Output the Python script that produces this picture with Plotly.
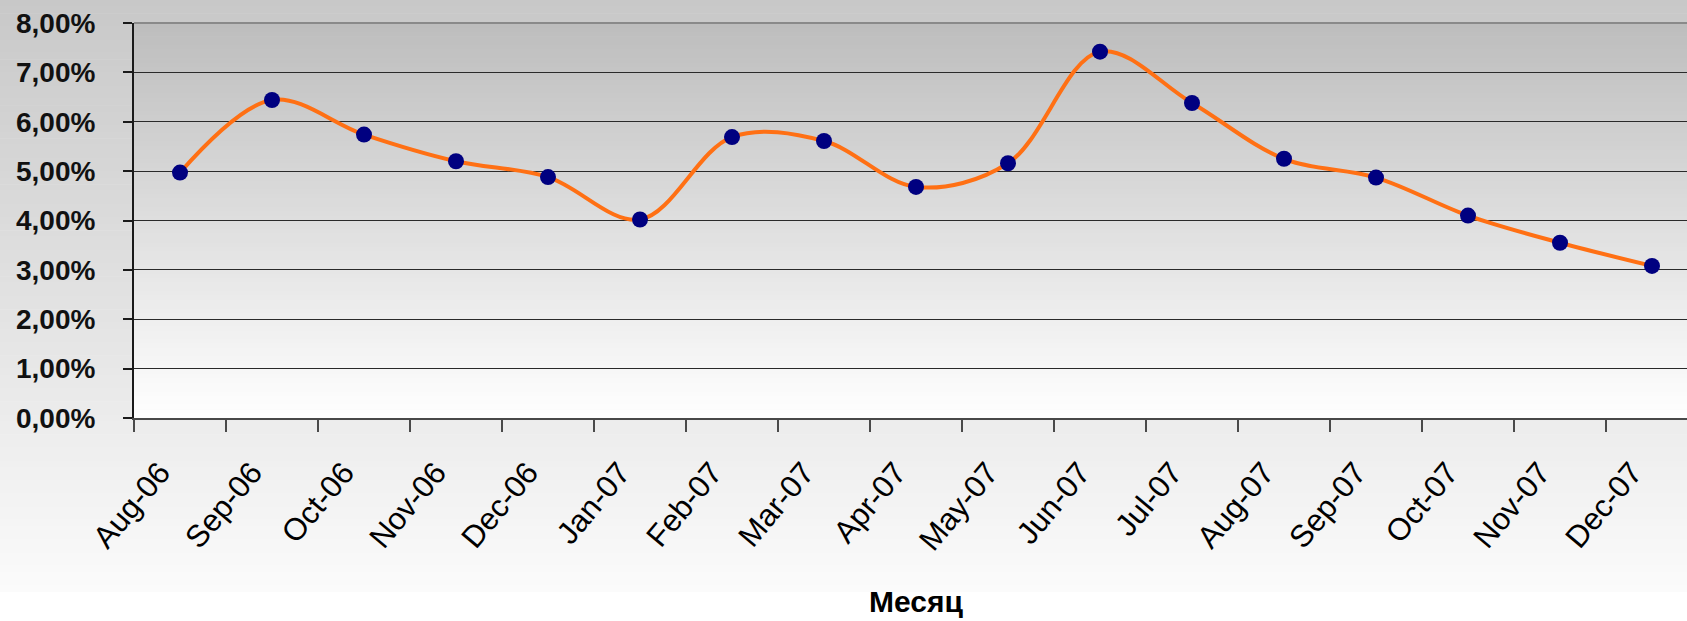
import plotly.graph_objects as go

# ---- data ----
months = ["Aug-06", "Sep-06", "Oct-06", "Nov-06", "Dec-06", "Jan-07", "Feb-07",
          "Mar-07", "Apr-07", "May-07", "Jun-07", "Jul-07", "Aug-07", "Sep-07",
          "Oct-07", "Nov-07", "Dec-07"]
rates_pct = [4.97, 6.44, 5.74, 5.20, 4.88, 4.02, 5.69, 5.61, 4.68, 5.16,
             7.42, 6.38, 5.25, 4.87, 4.10, 3.55, 3.08]
y_ticks = [0, 0.01, 0.02, 0.03, 0.04, 0.05, 0.06, 0.07, 0.08]
x_title = "Месяц"

# ---- geometry ----
W, H = 1687, 621
L, T, B, R = 134, 23, 203, 0
PH = H - T - B          # plot height in px
PW = W - L - R          # plot width in px

def py(ypx):            # pixel y (from top) -> paper y
    return (T + PH - ypx) / PH

def px(xpx):            # pixel x -> paper x
    return (xpx - L) / PW

def mix(c0, c1, t):
    v = round(c0 + (c1 - c0) * t)
    return f"rgb({v},{v},{v})"

shapes = []
# figure background gradient (gray top -> near white), white strip at bottom
N = 90
top_px, bot_px = 0, 592
for i in range(N):
    y0 = top_px + (bot_px - top_px) * i / N
    y1 = top_px + (bot_px - top_px) * (i + 1) / N + 0.6
    shapes.append(dict(type="rect", xref="paper", yref="paper", layer="below",
                       x0=px(0), x1=px(W), y0=py(y1), y1=py(y0),
                       fillcolor=mix(200, 251, (i + 0.5) / N), line=dict(width=0)))
shapes.append(dict(type="rect", xref="paper", yref="paper", layer="below",
                   x0=px(0), x1=px(W), y0=py(H), y1=py(bot_px),
                   fillcolor="white", line=dict(width=0)))
# plot area gradient
M = 90
for i in range(M):
    y0 = T + PH * i / M
    y1 = T + PH * (i + 1) / M + 0.6
    shapes.append(dict(type="rect", xref="paper", yref="paper", layer="below",
                       x0=0, x1=1, y0=max(0, py(y1)), y1=py(y0),
                       fillcolor=mix(189, 255, (i + 0.5) / M), line=dict(width=0)))
# gray top border of plot area
shapes.append(dict(type="line", xref="paper", yref="paper", layer="above",
                   x0=0, x1=1, y0=1, y1=1, line=dict(color="#8a8a8a", width=2)))

fig = go.Figure()
fig.add_trace(go.Scatter(
    x=months, y=[v / 100 for v in rates_pct], mode="lines+markers",
    line=dict(color="#FF7014", width=4, shape="spline", smoothing=1.0),
    marker=dict(color="#000080", size=16, line=dict(width=0)),
    showlegend=False, hoverinfo="x+y"))

n = len(months)
per_cat = 92.0
x_max = -0.5 + PW / per_cat

fig.update_layout(
    width=W, height=H,
    margin=dict(l=L, r=R, t=T, b=B, pad=0),
    paper_bgcolor="rgba(0,0,0,0)",
    plot_bgcolor="rgba(0,0,0,0)",
    separators=",.",
    font=dict(family="Arial, Liberation Sans, sans-serif", color="black"),
    shapes=shapes,
    xaxis=dict(
        type="category", categoryorder="array", categoryarray=months,
        range=[-0.5, x_max], tickson="boundaries",
        showgrid=False, zeroline=False,
        showline=True, linecolor="#4a4a4a", linewidth=2,
        ticks="outside", ticklen=12, tickwidth=1.5, tickcolor="#4a4a4a",
        tickangle=-50, tickfont=dict(size=31, color="black"),
        ticklabelstandoff=22, ticklabelshift=-20,
    ),
    yaxis=dict(
        range=[0, 0.08], tickvals=y_ticks, tickformat=".2%",
        showgrid=True, gridcolor="#2a2a2a", gridwidth=1.2,
        zeroline=False,
        showline=True, linecolor="#1a1a1a", linewidth=2,
        ticks="outside", ticklen=9, tickwidth=1.5, tickcolor="#1a1a1a",
        tickfont=dict(size=28, color="#111111", weight="bold"),
        ticklabelstandoff=22,
    ),
    annotations=[dict(
        text=x_title, xref="paper", yref="paper",
        x=px(L + per_cat * n / 2), y=py(601), xanchor="center", yanchor="middle",
        showarrow=False, font=dict(size=30, color="black", weight="bold"))],
)

fig.write_html("out.html", config={"displayModeBar": False},
               post_script="document.body.style.margin='0';document.body.style.overflow='hidden';")
